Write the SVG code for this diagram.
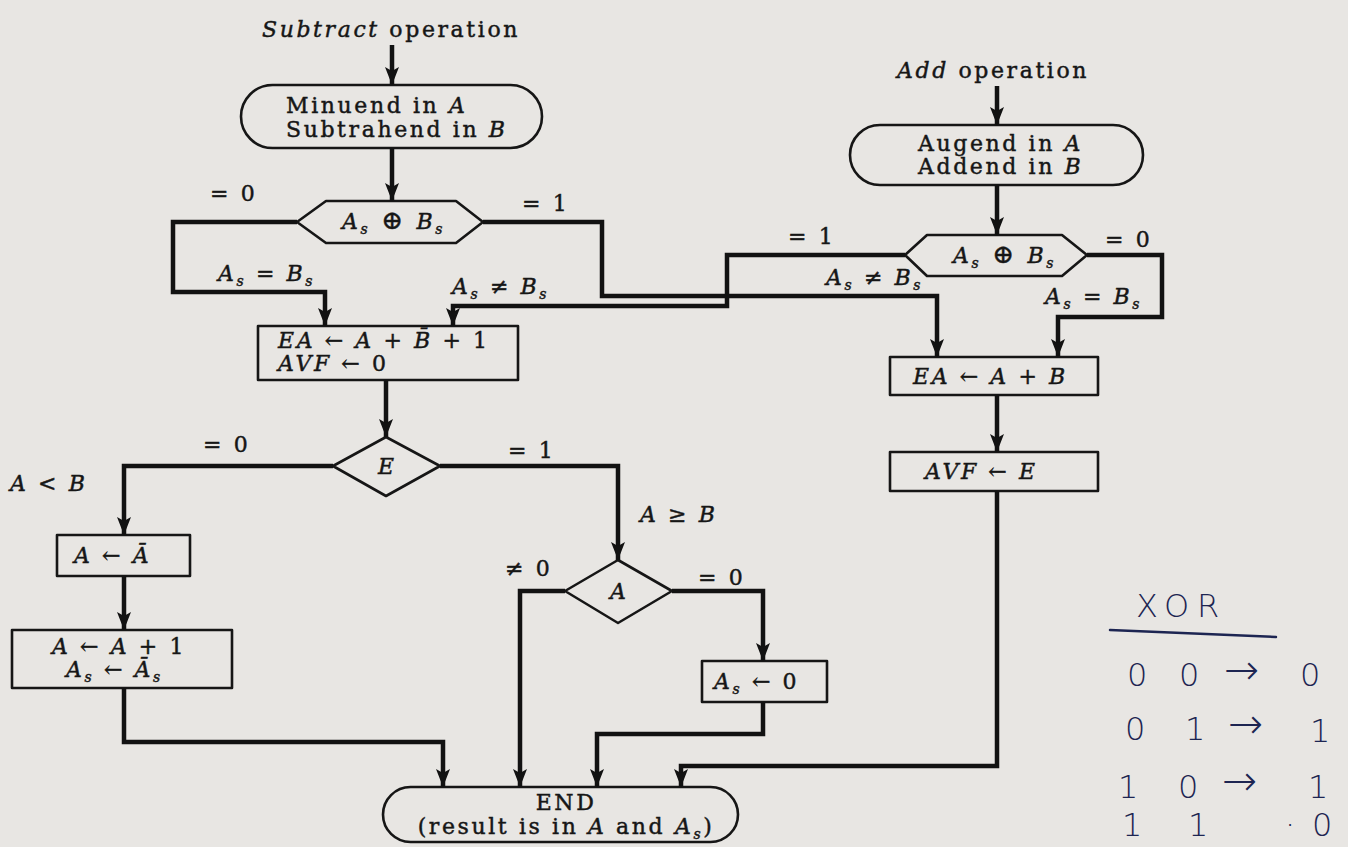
<svg xmlns="http://www.w3.org/2000/svg" width="1348" height="847" viewBox="0 0 1348 847">
<style>
.bg{fill:#e8e6e3}
.t{font-family:"DejaVu Serif","Liberation Serif",serif;font-size:22px;fill:#161616;stroke:#161616;stroke-width:0.45;letter-spacing:2.6px}
.i{font-style:italic}
.sub{font-size:14px;font-style:italic}
.n{fill:none;stroke:#161616;stroke-width:2.6;stroke-linejoin:round}
.c{fill:none;stroke:#121212;stroke-width:4.5;stroke-linejoin:miter}
.h{font-family:"DejaVu Sans","Liberation Sans",sans-serif;font-weight:300;fill:#1d2552;font-size:32px}
.ar{font-size:42px}
.hl{fill:none;stroke:#1d2552;stroke-width:2.5;stroke-linecap:round}
</style>
<defs>
<marker id="ah" viewBox="0 0 18 16" refX="18" refY="8" markerWidth="18" markerHeight="16" markerUnits="userSpaceOnUse" orient="auto">
<path d="M0,1 L18,8 L0,15 L4,8 z" fill="#121212"/>
</marker>
</defs>
<rect class="bg" x="0" y="0" width="1348" height="847"/>

<g id="lbl-subtract"><text class="t" x="262" y="37"><tspan class="i">Subtract</tspan> operation</text></g>
<g id="lbl-add"><text class="t" x="897" y="78"><tspan class="i">Add</tspan> operation</text></g>

<g id="n-minuend">
<rect class="n" x="241" y="85" width="301" height="63" rx="31.5"/>
<text class="t" x="286" y="113">Minuend in <tspan class="i">A</tspan></text>
<text class="t" x="286" y="137">Subtrahend in <tspan class="i">B</tspan></text>
</g>

<g id="n-xor-sub">
<polygon class="n" points="297,222 326,201 456,201 483,222 456,243 326,243"/>
<text class="t" x="342" y="229"><tspan class="i">A</tspan><tspan class="sub" dy="5">s</tspan><tspan dy="-5" font-size="26"> ⊕ </tspan><tspan class="i">B</tspan><tspan class="sub" dy="5">s</tspan></text>
</g>

<g id="n-augend">
<rect class="n" x="850" y="125" width="293" height="60" rx="30"/>
<text class="t" x="918" y="151">Augend in <tspan class="i">A</tspan></text>
<text class="t" x="918" y="174">Addend in <tspan class="i">B</tspan></text>
</g>

<g id="n-xor-add">
<polygon class="n" points="905,255 927,235 1062,235 1087,255 1062,276 927,276"/>
<text class="t" x="953" y="263"><tspan class="i">A</tspan><tspan class="sub" dy="5">s</tspan><tspan dy="-5" font-size="26"> ⊕ </tspan><tspan class="i">B</tspan><tspan class="sub" dy="5">s</tspan></text>
</g>

<g id="n-sub-op">
<rect class="n" x="258" y="326" width="260" height="54"/>
<text class="t i" x="278" y="348">EA ← A + B̄ + <tspan font-style="normal">1</tspan></text>
<text class="t i" x="278" y="371">AVF ← <tspan font-style="normal">0</tspan></text>
</g>

<g id="n-add-op">
<rect class="n" x="890" y="357" width="208" height="38"/>
<text class="t i" x="913" y="384">EA ← A + B</text>
</g>

<g id="n-avf">
<rect class="n" x="890" y="452" width="208" height="39"/>
<text class="t i" x="925" y="479">AVF ← E</text>
</g>

<g id="n-e">
<polygon class="n" points="386,437 440,466 386,496 333,466"/>
<text class="t i" x="386" y="474" text-anchor="middle" style="letter-spacing:0">E</text>
</g>

<g id="n-comp">
<rect class="n" x="57" y="535" width="133" height="41"/>
<text class="t i" x="74" y="563">A ← Ā</text>
</g>

<g id="n-inc">
<rect class="n" x="12" y="630" width="220" height="58"/>
<text class="t i" x="52" y="654">A ← A + <tspan font-style="normal">1</tspan></text>
<text class="t i" x="66" y="677">A<tspan class="sub" dy="5">s</tspan><tspan dy="-5"> ← Ā</tspan><tspan class="sub" dy="5">s</tspan></text>
</g>

<g id="n-a">
<polygon class="n" points="618,560 672,591 618,623 565,591"/>
<text class="t i" x="618" y="599" text-anchor="middle" style="letter-spacing:0">A</text>
</g>

<g id="n-clear">
<rect class="n" x="702" y="661" width="125" height="41"/>
<text class="t i" x="714" y="689">A<tspan class="sub" dy="5">s</tspan><tspan dy="-5"> ← </tspan><tspan font-style="normal">0</tspan></text>
</g>

<g id="n-end">
<rect class="n" x="383" y="787" width="355" height="55" rx="27.5"/>
<text class="t" x="566" y="810" text-anchor="middle">END</text>
<text class="t" x="566" y="834" text-anchor="middle">(result is in <tspan class="i">A</tspan> and <tspan class="i">A</tspan><tspan class="sub" dy="5">s</tspan><tspan dy="-5">)</tspan></text>
</g>

<g id="connectors">
<path class="c" d="M392,45 V85" marker-end="url(#ah)"/>
<path class="c" d="M392,148 V201" marker-end="url(#ah)"/>
<path class="c" d="M297,222 H173 V292 H325 V326" marker-end="url(#ah)"/>
<path class="c" d="M483,222 H602 V296 H937 V357" marker-end="url(#ah)"/>
<path class="c" d="M997,86 V125" marker-end="url(#ah)"/>
<path class="c" d="M997,185 V235" marker-end="url(#ah)"/>
<path class="c" d="M905,255 H727 V306 H453 V326" marker-end="url(#ah)"/>
<path class="c" d="M1087,255 H1162 V317 H1058 V357" marker-end="url(#ah)"/>
<path class="c" d="M386,380 V437" marker-end="url(#ah)"/>
<path class="c" d="M997,395 V452" marker-end="url(#ah)"/>
<path class="c" d="M333,466 H124 V535" marker-end="url(#ah)"/>
<path class="c" d="M440,466 H618 V560" marker-end="url(#ah)"/>
<path class="c" d="M124,576 V630" marker-end="url(#ah)"/>
<path class="c" d="M124,688 V742 H443 V787" marker-end="url(#ah)"/>
<path class="c" d="M565,591 H520 V787" marker-end="url(#ah)"/>
<path class="c" d="M672,591 H763 V661" marker-end="url(#ah)"/>
<path class="c" d="M763,702 V734 H597 V787" marker-end="url(#ah)"/>
<path class="c" d="M997,491 V766 H681 V787" marker-end="url(#ah)"/>
</g>

<g id="edge-labels">
<text class="t" x="210" y="201">= 0</text>
<text class="t" x="522" y="211">= 1</text>
<text class="t" x="218" y="281"><tspan class="i">A</tspan><tspan class="sub" dy="5">s</tspan><tspan dy="-5"> = </tspan><tspan class="i">B</tspan><tspan class="sub" dy="5">s</tspan></text>
<text class="t" x="452" y="294"><tspan class="i">A</tspan><tspan class="sub" dy="5">s</tspan><tspan dy="-5"> ≠ </tspan><tspan class="i">B</tspan><tspan class="sub" dy="5">s</tspan></text>
<text class="t" x="788" y="244">= 1</text>
<text class="t" x="1105" y="247">= 0</text>
<text class="t" x="826" y="285"><tspan class="i">A</tspan><tspan class="sub" dy="5">s</tspan><tspan dy="-5"> ≠ </tspan><tspan class="i">B</tspan><tspan class="sub" dy="5">s</tspan></text>
<text class="t" x="1045" y="304"><tspan class="i">A</tspan><tspan class="sub" dy="5">s</tspan><tspan dy="-5"> = </tspan><tspan class="i">B</tspan><tspan class="sub" dy="5">s</tspan></text>
<text class="t" x="203" y="452">= 0</text>
<text class="t" x="508" y="458">= 1</text>
<text class="t i" x="10" y="491">A &lt; B</text>
<text class="t i" x="640" y="522">A ≥ B</text>
<text class="t" x="505" y="576">≠ 0</text>
<text class="t" x="698" y="585">= 0</text>
</g>

<g id="note-xor">
<text class="h" x="1136" y="617" style="letter-spacing:8px">XOR</text>
<path class="hl" d="M1110,630 L1276,637"/>
<text class="h" x="1127 1179" y="686">00<tspan class="ar" x="1224" dy="-2">→</tspan><tspan x="1300" dy="2">0</tspan></text>
<text class="h" x="1125 1185" y="740">01<tspan class="ar" x="1228" dy="-2">→</tspan><tspan x="1310" dy="4">1</tspan></text>
<text class="h" x="1118 1178" y="798">10<tspan class="ar" x="1222" dy="-3">→</tspan><tspan x="1308" dy="3">1</tspan></text>
<text class="h" x="1122 1188" y="836" font-size="26">11<tspan x="1285">·</tspan><tspan x="1312">0</tspan></text>
</g>
</svg>
